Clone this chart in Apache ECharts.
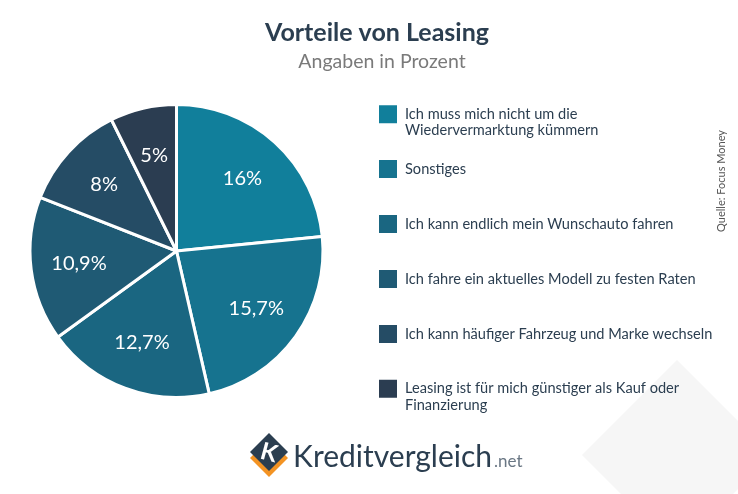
<!DOCTYPE html>
<html>
<head>
<meta charset="utf-8">
<script src="https://cdn.jsdelivr.net/npm/echarts@6/dist/echarts.min.js"></script>
<style>html,body{margin:0;padding:0;background:#fff;}#c{width:738px;height:494px;}</style>
</head>
<body>
<div id="c"></div>
<script>
const categories = [
  'Ich muss mich nicht um die\nWiedervermarktung kümmern',
  'Sonstiges',
  'Ich kann endlich mein Wunschauto fahren',
  'Ich fahre ein aktuelles Modell zu festen Raten',
  'Ich kann häufiger Fahrzeug und Marke wechseln',
  'Leasing ist für mich günstiger als Kauf oder\nFinanzierung'
];
const values = [16, 15.7, 12.7, 10.9, 8, 5];
const valueLabels = ['16%', '15,7%', '12,7%', '10,9%', '8%', '5%'];
const colors = ['#117f9b', '#16738f', '#1a6681', '#1f5a74', '#254c65', '#2b3d51'];
const legendTops = [89.5, 158, 213, 268, 323, 364];

const FONT = 'Lato, "Open Sans", sans-serif';
const chart = echarts.init(document.getElementById('c'), null, {renderer: 'canvas'});

const pieData = categories.map((n, i) => ({name: n, value: values[i], itemStyle: {color: colors[i]}}));
const labelData = categories.map((n, i) => ({name: n, value: values[i], label: {formatter: valueLabels[i]}}));

const legends = categories.map((n, i) => {
  const twoLine = n.indexOf('\n') >= 0;
  return {
    data: [n], left: 377, top: legendTops[i], orient: 'vertical', padding: 0,
    itemWidth: 20, itemHeight: 20, itemGap: 0, icon: 'rect', selectedMode: false,
    formatter: twoLine ? (name => '\n' + name) : (name => name),
    textStyle: {fontFamily: FONT, fontSize: 14.6, color: '#2b3e50', lineHeight: 16.5,
      padding: [0, 0, 0, 2]}
  };
});

chart.setOption({
  animation: false,
  color: colors,
  title: [
    {text: 'Vorteile von Leasing', left: 372, top: 15, textAlign: 'center',
     textStyle: {fontFamily: FONT, fontSize: 25, fontWeight: 'bold', color: '#2b3e50'}},
    {text: 'Angaben in Prozent', left: 377, top: 47, textAlign: 'center',
     textStyle: {fontFamily: FONT, fontSize: 19.5, fontWeight: 'normal', color: '#7a7a7a'}}
  ],
  legend: legends,
  series: [
    {
      type: 'pie', center: [176.5, 251], radius: [0, 146.5], startAngle: 90, clockwise: true,
      data: pieData, silent: true,
      itemStyle: {borderColor: '#ffffff', borderWidth: 3},
      label: {show: false}, labelLine: {show: false}, emphasis: {disabled: true}
    },
    {
      type: 'pie', center: [176.5, 251], radius: [44, 146.5], startAngle: 90, clockwise: true,
      data: labelData, silent: true, z: 3,
      itemStyle: {color: 'rgba(0,0,0,0)', borderWidth: 0},
      label: {show: true, position: 'inside', color: '#ffffff', fontFamily: FONT, fontSize: 20},
      labelLine: {show: false}, emphasis: {disabled: true}
    }
  ],
  graphic: [
    {type: 'polygon', z: -10, shape: {points: [[677, 360], [772, 455], [677, 550], [582, 455]]},
     style: {fill: '#f6f6f6'}, silent: true},
    {type: 'text', x: 721, y: 181, rotation: Math.PI / 2,
     style: {text: 'Quelle: Focus Money', fontFamily: FONT, fontSize: 11, fill: '#555555',
             textAlign: 'center', textVerticalAlign: 'middle'}},
    {type: 'polygon', shape: {points: [[269, 439], [288, 458], [269, 477], [250, 458]]},
     style: {fill: '#f39323'}},
    {type: 'polygon', shape: {points: [[269, 433], [288, 452], [269, 471], [250, 452]]},
     style: {fill: '#2b3e50'}},
    {type: 'text', x: 269, y: 453, rotation: -Math.PI / 12,
     style: {text: 'K', fontFamily: FONT, fontSize: 24, fontWeight: 'bold', fill: '#ffffff',
             textAlign: 'center', textVerticalAlign: 'middle'}},
    {type: 'text', x: 293, y: 457,
     style: {text: 'Kreditvergleich', fontFamily: FONT, fontSize: 30, fill: '#2b3e50',
             textAlign: 'left', textVerticalAlign: 'middle'}},
    {type: 'text', x: 494, y: 462,
     style: {text: '.net', fontFamily: FONT, fontSize: 17, fill: '#6a7784',
             textAlign: 'left', textVerticalAlign: 'middle'}}
  ]
});
</script>
</body>
</html>
